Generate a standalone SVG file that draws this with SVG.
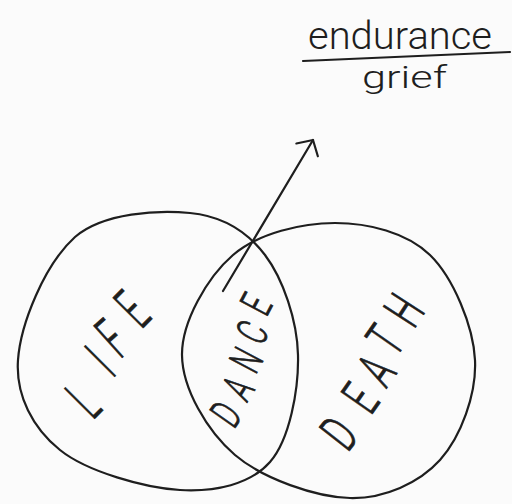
<svg xmlns="http://www.w3.org/2000/svg" width="512" height="504" viewBox="0 0 512 504">
  <defs>
    <style>
      .ink { fill: none; stroke: #1e1e1e; stroke-width: 2.2; stroke-linecap: round; stroke-linejoin: round; }
      .hand { font-family: Roboto, "DejaVu Sans", "Liberation Sans", sans-serif; font-weight: 300; fill: #1e1e1e; }
      .cap { text-anchor: middle; stroke: #1e1e1e; stroke-width: 0.9; }
      .life { font-size: 60px; }
      .dance { font-size: 44px; }
      .death { font-size: 54px; }
    </style>
    <marker id="chevron" markerUnits="userSpaceOnUse" markerWidth="30" markerHeight="30" refX="0" refY="0" viewBox="-15 -15 30 30" orient="auto" overflow="visible">
      <path d="M-11.5,-12.5 L0,0 L-11.5,12.5" fill="none" stroke="#1e1e1e" stroke-width="2.2" stroke-linecap="round" stroke-linejoin="round"/>
    </marker>
  </defs>
  <rect width="512" height="504" fill="#fbfbfb"/>

  <g id="label">
    <text class="hand" x="308" y="49" font-size="38" textLength="184" lengthAdjust="spacingAndGlyphs">endurance</text>
    <path class="ink" d="M303,61 L510,52"/>
    <text class="hand" x="362" y="88" font-size="32" textLength="85" lengthAdjust="spacingAndGlyphs">grief</text>
  </g>

  <g id="life">
    <path class="ink" d="M190,213 C221.7,216 247,231.3 265,255 C283,278.7 297.2,320.5 298,355 C298.8,389.5 289.7,439.5 270,462 C250.3,484.5 215,492 180,490 C145,488 87,471.7 60,450 C33,428.3 15.5,395.5 18,360 C20.5,324.5 44,265 75,237 C103.7,212.5 158.3,210 190,213 Z"/>
    <g class="hand cap life">
      <text transform="translate(83,400) rotate(-45) scale(0.5,1)" y="21.3">L</text>
      <text transform="translate(100,361) rotate(-45) scale(0.5,1)" y="21.3">I</text>
      <text transform="translate(112,338) rotate(-42) scale(0.5,1)" y="21.3">F</text>
      <text transform="translate(132,309) rotate(-45) scale(0.5,1)" y="21.3">E</text>
    </g>
  </g>

  <g id="death">
    <path class="ink" d="M335,223 C367.8,223 406.7,232.2 430,255 C453.3,277.8 473.3,325.8 475,360 C476.7,394.2 460.8,437 440,460 C419.2,483 384.2,498.8 350,498 C315.8,497.2 263,478.8 235,455 C207,431.2 182.3,388.3 182,355 C181.7,321.7 207.5,277 233,255 C258.5,233 302.2,223 335,223 Z"/>
    <g class="hand cap death">
      <text transform="translate(339,433) rotate(-52) scale(0.6,1)" y="19.2">D</text>
      <text transform="translate(360,398) rotate(-55) scale(0.6,1)" y="19.2">E</text>
      <text transform="translate(376,370) rotate(-55) scale(0.6,1)" y="19.2">A</text>
      <text transform="translate(385,340) rotate(-55) scale(0.6,1)" y="19.2">T</text>
      <text transform="translate(404,310) rotate(-57) scale(0.6,1)" y="19.2">H</text>
    </g>
  </g>

  <g id="dance">
    <g class="hand cap dance">
      <text transform="translate(226,414) rotate(-55) scale(0.6,1)" y="15.6">D</text>
      <text transform="translate(238,388) rotate(-58) scale(0.6,1)" y="15.6">A</text>
      <text transform="translate(246,360) rotate(-62) scale(0.6,1)" y="15.6">N</text>
      <text transform="translate(252,332) rotate(-62) scale(0.6,1)" y="15.6">C</text>
      <text transform="translate(256,304) rotate(-62) scale(0.6,1)" y="15.6">E</text>
    </g>
  </g>

  <g id="connectors">
    <path class="ink" d="M223,291 L313,140" marker-end="url(#chevron)"/>
  </g>
</svg>
